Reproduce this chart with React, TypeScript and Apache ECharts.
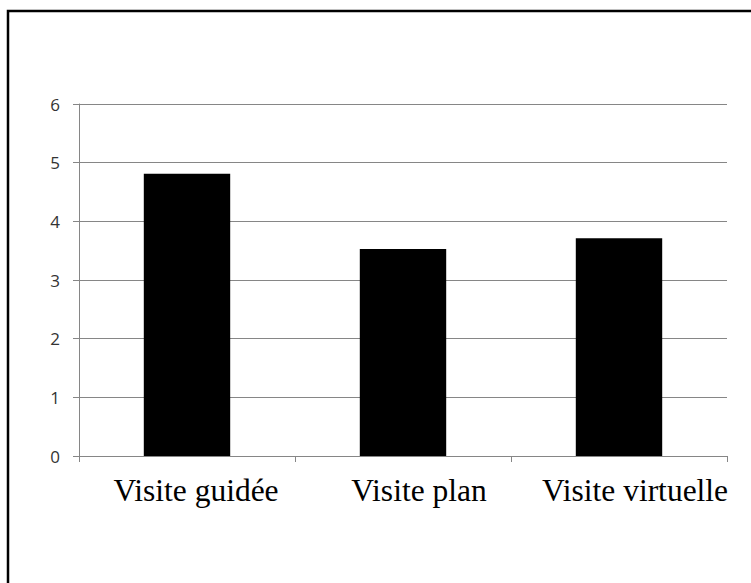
import React, { useEffect, useRef } from "react";
import * as echarts from "echarts";

const categories = ["Visite guidée", "Visite plan", "Visite virtuelle"];
const values = [4.81, 3.53, 3.71];
const yTicks = [0, 1, 2, 3, 4, 5, 6];

export default function App() {
  const ref = useRef<HTMLDivElement>(null);
  useEffect(() => {
    if (!ref.current) return;
    const chart = echarts.init(ref.current, undefined, { renderer: "svg" });
    const labelFont = {
      color: "#000",
      fontFamily: "Liberation Serif, Times New Roman, serif",
      fontSize: 31.5,
    };
    chart.setOption({
      animation: false,
      backgroundColor: "#ffffff",
      grid: { left: 79, top: 104, right: 24, bottom: 127, containLabel: false },
      graphic: [
        {
          type: "rect",
          shape: { x: 8, y: 11, width: 800, height: 700 },
          style: { fill: "none", stroke: "#000", lineWidth: 2.5 },
          silent: true,
        },
      ],
      xAxis: {
        type: "category",
        data: categories,
        axisLine: { show: true, lineStyle: { color: "#868686", width: 1 } },
        axisTick: { show: true, length: 6, alignWithLabel: false, lineStyle: { color: "#868686" } },
        axisLabel: {
          ...labelFont,
          margin: 18,
          interval: 0,
          formatter: (v: string, i: number) => (i === 0 ? `{a|${v}}` : `{b|${v}}`),
          rich: {
            a: { ...labelFont, padding: [0, 0, 0, 18] },
            b: { ...labelFont, padding: [0, 0, 0, 32] },
          },
        },
        splitLine: { show: false },
      },
      yAxis: {
        type: "value",
        min: yTicks[0],
        max: yTicks[yTicks.length - 1],
        interval: 1,
        axisLine: { show: true, lineStyle: { color: "#868686", width: 1 } },
        axisTick: { show: true, length: 6, lineStyle: { color: "#868686" } },
        axisLabel: {
          color: "#333333",
          fontFamily: "Open Sans, Liberation Sans, sans-serif",
          fontSize: 17,
          margin: 19,
        },
        splitLine: { show: true, lineStyle: { color: "#868686", width: 1 } },
      },
      series: [
        {
          type: "bar",
          data: values,
          barWidth: "40%",
          itemStyle: { color: "#000" },
        },
      ],
    });
    return () => chart.dispose();
  }, []);
  return (
    <div
      ref={ref}
      style={{ position: "fixed", left: 0, top: 0, width: 751, height: 583 }}
    />
  );
}
